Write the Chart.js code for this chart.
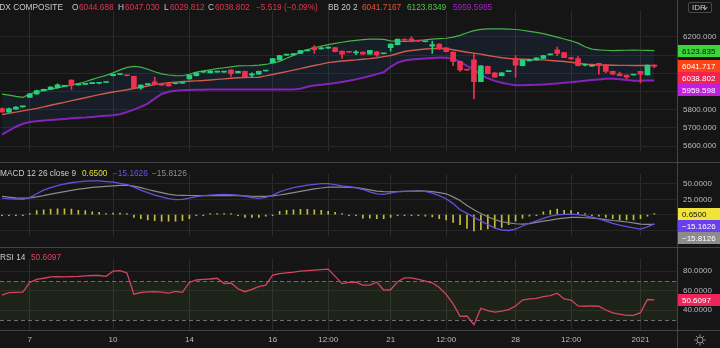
<!DOCTYPE html>
<html>
<head>
<meta charset="utf-8">
<script src="https://cdn.jsdelivr.net/npm/chart.js@4.4.1/dist/chart.umd.min.js"></script>
<style>
  body { margin: 0; background: #151515; }
  #wrap { position: relative; width: 720px; height: 348px; background: #151515; overflow: hidden;
          font-family: "Liberation Sans", Arial, sans-serif; }
  #wrap canvas { position: absolute; left: 0; }
  .hline { position: absolute; left: 0; width: 720px; height: 1px; background: #434343; }
  .vline { position: absolute; top: 0; left: 677px; width: 1px; height: 348px; background: #434343; }
  .lbl { position: absolute; font-size: 8.3px; line-height: 11px; white-space: nowrap; }
  #idr { position: absolute; left: 688px; top: 2px; width: 24px; height: 11px; border: 1px solid #4a4a4a;
         border-radius: 2px; font-size: 8px; line-height: 10px; color: #d0d0d0; box-sizing: border-box; padding-left: 3px; }
  #idr i { position: absolute; right: 4px; top: 3px; width: 2px; height: 2px; border-right: 1px solid #bbb;
           border-bottom: 1px solid #bbb; transform: rotate(45deg); }
</style>
</head>
<body>
<div id="wrap">
  <canvas id="priceChart" width="720" height="162" style="top:0"></canvas>
  <canvas id="macdChart" width="720" height="84" style="top:163px"></canvas>
  <canvas id="rsiChart" width="720" height="100" style="top:248px"></canvas>
  <div class="hline" style="top:162px"></div>
  <div class="hline" style="top:247px"></div>
  <div class="hline" style="top:330px"></div>
  <div class="vline"></div>
  <div id="idr">IDR<i></i></div>
</div>
<script>
// candles, IDX Composite
const candleOpen = [
  5806, 5786, 5803, 5815, 5867, 5886, 5903, 5911, 5921, 5928,
  5962, 5935, 5939, 5943, 5945, 5949, 5986, 5993, 5990, 5983,
  5919, 5937, 5952, 5943, 5943, 5942, 5945, 5968, 5986, 6005,
  6002, 6006, 6006, 6018, 6002, 6010, 5989, 5994, 6012, 6057,
  6073, 6099, 6100, 6108, 6123, 6144, 6133, 6137, 6141, 6121,
  6116, 6112, 6116, 6105, 6118, 6107, 6140, 6157, 6187, 6189,
  6177, 6173, 6148, 6160, 6140, 6116, 6065, 6018, 6073, 5954,
  6038, 6002, 5986, 6009, 6081, 6041, 6068, 6073, 6081, 6101,
  6129, 6113, 6086, 6081, 6044, 6038, 6054, 6044, 6010, 5997,
  5989, 5990, 6010, 5990, 6044.688
];
const candleHigh = [
  5810, 5808, 5816, 5818, 5888, 5907, 5913, 5926, 5941, 5934,
  5964, 5942, 5941, 5950, 5950, 5951, 5995, 5996, 5991, 5984,
  5936, 5940, 5978, 5946, 5944, 5944, 5948, 5990, 6003, 6008,
  6014, 6008, 6008, 6019, 6011, 6011, 6002, 6011, 6014, 6082,
  6098, 6101, 6109, 6125, 6125, 6152, 6141, 6145, 6142, 6122,
  6117, 6124, 6117, 6126, 6119, 6109, 6161, 6188, 6188, 6200,
  6178, 6175, 6176, 6161, 6141, 6117, 6066, 6019, 6108, 6042,
  6039, 6003, 6003, 6011, 6097, 6074, 6077, 6085, 6098, 6103,
  6144, 6114, 6087, 6092, 6050, 6040, 6055, 6049, 6011, 6006,
  5990, 5992, 6011, 6045, 6047.030
];
const candleLow = [
  5784, 5784, 5802, 5814, 5865, 5884, 5902, 5910, 5917, 5927,
  5911, 5934, 5938, 5942, 5941, 5948, 5985, 5992, 5985, 5918,
  5911, 5936, 5936, 5932, 5929, 5941, 5944, 5967, 5985, 6004,
  6001, 6005, 6005, 5982, 6001, 5980, 5978, 5993, 6011, 6056,
  6072, 6098, 6099, 6107, 6122, 6108, 6132, 6136, 6117, 6081,
  6114, 6102, 6104, 6104, 6092, 6106, 6121, 6156, 6180, 6172,
  6175, 6172, 6108, 6132, 6117, 6041, 6010, 6016, 5859, 5953,
  5996, 5977, 5985, 6008, 5978, 6040, 6067, 6072, 6080, 6100,
  6097, 6085, 6077, 6040, 6040, 6037, 5994, 6002, 5993, 5985,
  5970, 5989, 5946, 5989, 6029.812
];
const candleClose = [
  5787, 5806, 5814, 5817, 5886, 5905, 5911, 5924, 5936, 5932,
  5933, 5941, 5940, 5949, 5946, 5950, 5994, 5995, 5986, 5919,
  5935, 5939, 5937, 5934, 5930, 5943, 5947, 5989, 6002, 6007,
  6013, 6007, 6007, 5998, 6010, 5981, 5997, 6010, 6013, 6081,
  6097, 6100, 6108, 6124, 6124, 6129, 6140, 6144, 6118, 6105,
  6115, 6113, 6105, 6125, 6100, 6108, 6160, 6187, 6181, 6173,
  6176, 6174, 6157, 6133, 6118, 6065, 6018, 6017, 5954, 6041,
  5997, 5978, 6002, 6010, 6044, 6073, 6076, 6084, 6097, 6102,
  6108, 6086, 6078, 6041, 6045, 6039, 6041, 6010, 5994, 5986,
  5978, 5991, 5994, 6044, 6038.802
];

// Bollinger Bands 20 2
const bbUpper = [
  5885, 5880, 5873, 5867, 5886, 5898, 5905, 5912, 5919, 5927,
  5935, 5943, 5953, 5966, 5978, 5988, 6002, 6018, 6032, 6037,
  6033, 6022, 6008, 5996, 5990, 5987, 5986, 5994, 6006, 6013,
  6019, 6025, 6030, 6035, 6040, 6041, 6042, 6044, 6048, 6056,
  6065, 6082, 6098, 6115, 6130, 6140, 6149, 6157, 6164, 6170,
  6176, 6180, 6184, 6187, 6187, 6186, 6178, 6176, 6175, 6176,
  6179, 6183, 6187, 6190, 6192, 6198, 6208, 6222, 6234, 6241,
  6243, 6243, 6243, 6242, 6240, 6236, 6230, 6224, 6217, 6208,
  6198, 6188, 6178, 6165, 6145, 6132, 6128, 6126, 6124, 6125,
  6126, 6127, 6126, 6125, 6123.835
];
const bbBasis = [
  5773, 5779, 5786, 5793, 5800, 5807, 5815, 5824, 5832, 5840,
  5849, 5857, 5865, 5874, 5882, 5890, 5897, 5903, 5909, 5916,
  5923, 5930, 5937, 5943, 5948, 5951, 5954, 5956, 5958, 5960,
  5963, 5966, 5969, 5972, 5975, 5976, 5977, 5978, 5985, 5993,
  6001, 6009, 6017, 6025, 6034, 6042, 6050, 6058, 6063, 6067,
  6070, 6073, 6077, 6080, 6085, 6091, 6097, 6108, 6119, 6125,
  6129, 6133, 6135, 6137, 6134, 6129, 6122, 6115, 6110, 6105,
  6097, 6091, 6085, 6081, 6079, 6077, 6075, 6074, 6073, 6070,
  6067, 6064, 6060, 6055, 6050, 6048, 6046, 6045, 6044, 6043,
  6043, 6042, 6042, 6042, 6041.717
];
const bbLower = [
  5663, 5685, 5706, 5722, 5732, 5736, 5740, 5743, 5746, 5749,
  5752, 5755, 5757, 5760, 5763, 5766, 5769, 5775, 5786, 5800,
  5815, 5833, 5860, 5886, 5898, 5904, 5907, 5908, 5909, 5909,
  5910, 5910, 5910, 5910, 5910, 5910, 5910, 5910, 5910, 5910,
  5910, 5910, 5911, 5915, 5925, 5932, 5936, 5941, 5946, 5952,
  5958, 5966, 5975, 5985, 5995, 6005, 6035, 6058, 6070, 6075,
  6078, 6081, 6084, 6086, 6085, 6080, 6062, 6040, 6020, 5990,
  5972, 5958, 5948, 5940, 5934, 5934, 5935, 5936, 5938, 5941,
  5944, 5947, 5950, 5954, 5958, 5962, 5966, 5969, 5970, 5967,
  5962, 5958, 5958, 5960, 5959.598
];

// MACD 12 26 close 9
const macdLine = [
  27, 26, 25.5, 25, 27.8, 34, 40, 44, 47.5, 50,
  52, 53.5, 54.5, 55, 55, 54, 53, 51, 49, 45,
  40, 36, 32, 29, 26, 24.6, 25, 27, 29.5, 31,
  32, 32.5, 33, 32.5, 32, 30, 28, 26.6, 28, 31.9,
  37, 41, 44, 46, 48, 49.5, 50.5, 50.5, 49, 47,
  45.5, 44, 41, 37, 34, 33, 35, 37.5, 38, 38,
  38, 38, 35, 31, 26, 18, 8, 2, -4, -10.5,
  -16, -22, -25, -25.8, -23.5, -18.5, -14, -10, -6, -2.5,
  -0.5, 0.5, 0.8, 0, -1.6, -4, -7, -10.5, -14, -17,
  -19.5, -21.5, -23.4, -20, -15.1626
];
const signalLine = [
  30, 28.5, 27.5, 26.8, 27.5, 29, 31, 33.5, 35.5, 37.5,
  39.5, 41.5, 43, 44.5, 45.3, 46.2, 47, 47.6, 48, 46.5,
  44, 41, 38.5, 36, 33.5, 32, 31.5, 31.2, 31, 31,
  31, 31, 31, 31, 30.8, 30.5, 30, 29.8, 29.8, 30.5,
  32, 34, 36, 38, 40, 42, 43.5, 45, 45, 44.8,
  44.5, 44, 42.5, 40.5, 38.5, 37.5, 37, 37.5, 38, 38.5,
  38.7, 38.5, 37.5, 36, 34, 29, 23, 15, 8, 2,
  -3.5, -8, -11.5, -13.5, -14.8, -15.3, -14.5, -12.5, -10.5, -9,
  -7, -5.5, -4.5, -4.4, -5, -5.6, -6.5, -8, -9.5, -10.5,
  -12, -13.5, -15.3, -15.7, -15.8126
];
const macdHist = [
  -0.8, -0.5, -0.8, -1, 0.5, 6.5, 7.7, 8.9, 9.7, 9.7,
  8.9, 6.9, 6.5, 4.8, 3.6, 1.6, 2.4, 2.4, 1.6, -4.4,
  -6.5, -8.5, -9.7, -10.5, -10.5, -10.5, -9.7, -6.5, -1.6, -0.8,
  0.8, 0.5, 0.8, 0.5, -0.5, -4.4, -4.4, -4.4, -2.4, -1.6,
  5.6, 6.9, 7.7, 8.5, 8.5, 7.7, 6.9, 5.6, 3.6, 0.8,
  -1.6, -1.6, -5.6, -5.6, -6.5, -6.5, -4.4, -1.6, -1.2, -1.2,
  -1.6, -2.4, -3.6, -6.5, -8.5, -12.5, -16.5, -22.6, -26.6, -24.6,
  -23.4, -21.8, -20.6, -16.5, -10.5, -5.6, -2.4, -0.4, 4.8, 6.9,
  8.9, 6.9, 6.5, 3.6, 0.8, -1.6, -2.4, -4.4, -6.5, -8.5,
  -8.5, -8.5, -6.5, -2.4, 0.65
];

// RSI 14
const rsiLine = [
  55.5, 58, 58.4, 58.5, 68.5, 71.7, 72.8, 74.2, 74.5, 74.1,
  74.5, 74.8, 75.3, 75.6, 75.6, 74.7, 80, 80.6, 78.2, 56.5,
  58.2, 58.8, 59, 58.5, 57.5, 59.3, 58.4, 68.5, 71, 71.6,
  72, 72.8, 67.4, 67.9, 62, 59, 61.3, 64.3, 65.8, 76,
  77.6, 78.3, 79, 80, 80.6, 81.2, 81.6, 82.1, 74.7, 67.3,
  68.5, 68.7, 65.8, 65.8, 68.7, 60.7, 61, 69.3, 73.2, 73.2,
  71.7, 69.9, 68.1, 63.4, 56.3, 46.5, 33.8, 34.1, 25.2, 42.1,
  39.7, 38.2, 39.1, 40.6, 44.4, 50.4, 51.6, 52.1, 53.9, 55.1,
  57.5, 51.6, 50.4, 44.4, 44.1, 44.4, 44.1, 40.3, 37.3, 36.1,
  34.7, 34.7, 37.6, 51, 50.6097
];
const rsiLevels = [70, 30];

// time axis: bar index of each label
const timeTickIdx = [4, 16, 27, 39, 47, 56, 64, 74, 82, 92];
const timeTickLabels = ['7', '10', '14', '16', '12:00', '21', '12:00', '28', '12:00', '2021'];
const priceTicks = [5600, 5700, 5800, 5900, 6000, 6100, 6200];
const macdTicks = [-25, 0, 25, 50];
const rsiTicks = [40, 60, 80];

const FONT = '"Liberation Sans", Arial, sans-serif';
Chart.defaults.font.family = FONT;
Chart.defaults.animation = false;

const idx = candleClose.map((_, i) => i);
const last = idx.length - 1;
const candleColor = idx.map(i => candleClose[i] >= candleOpen[i] ? '#24d07c' : '#f0304f');
const pts = arr => idx.map(i => ({ x: i, y: arr[i] }));
const minus = s => s.replace('-', '\u2212');

function timeAxis(showLabels) {
  return {
    type: 'linear', min: -0.29, max: 97.26, offset: false,
    afterBuildTicks: s => { s.ticks = timeTickIdx.map(v => ({ value: v })); },
    afterFit: s => { s.height = showLabels ? 18 : 0; },
    grid: { color: '#2b2b2b', drawTicks: false, offset: false },
    border: { display: false },
    ticks: {
      display: showLabels, color: '#b9bbc0', font: { size: 8 }, padding: 5,
      maxRotation: 0, autoSkip: false, callback: (v, i) => timeTickLabels[i]
    }
  };
}

function valueAxis(min, max, ticks, digits) {
  return {
    position: 'right', min: min, max: max,
    afterBuildTicks: s => { s.ticks = ticks.map(v => ({ value: v })); },
    afterFit: s => { s.width = 43; },
    grid: { color: '#262626', drawTicks: false },
    border: { display: false },
    ticks: { color: '#b9bbc0', font: { size: 8 }, padding: 6, callback: v => minus(v.toFixed(digits)) }
  };
}

// coloured last-value tags on the right scale, pushed apart when they overlap
const valueBoxes = {
  id: 'valueBoxes',
  afterDraw(chart, args, opts) {
    const ctx = chart.ctx, y = chart.scales.y;
    const boxes = opts.items.map(b => Object.assign({ py: y.getPixelForValue(b.value) }, b))
      .sort((a, b) => a.py - b.py);
    let prev = -1e9;
    ctx.save();
    ctx.font = '8px ' + FONT;
    ctx.textBaseline = 'middle';
    boxes.forEach(b => {
      const py = Math.max(b.py, prev + 12);
      prev = py;
      ctx.fillStyle = b.bg;
      ctx.fillRect(y.left + 1, Math.round(py - 6), chart.width - y.left - 1, 12);
      ctx.fillStyle = b.fg;
      ctx.fillText(b.text, y.left + 5, Math.round(py) + 0.5);
    });
    ctx.restore();
  }
};

const rsiBand = {
  id: 'rsiBand',
  beforeDatasetsDraw(chart) {
    const { ctx, chartArea: a, scales: { y } } = chart;
    const top = y.getPixelForValue(rsiLevels[0]), bot = y.getPixelForValue(rsiLevels[1]);
    ctx.save();
    ctx.fillStyle = 'rgba(110,170,60,0.10)';
    ctx.fillRect(a.left, top, a.right - a.left, bot - top);
    ctx.strokeStyle = '#6e6e6e';
    ctx.lineWidth = 1;
    ctx.setLineDash([4, 3]);
    [top, bot].forEach(p => {
      ctx.beginPath();
      ctx.moveTo(a.left, Math.round(p) + 0.5);
      ctx.lineTo(a.right, Math.round(p) + 0.5);
      ctx.stroke();
    });
    ctx.restore();
  },
  afterDraw(chart) {
    // settings gear under the scale
    const ctx = chart.ctx, cx = 700, cy = 92;
    ctx.save();
    ctx.strokeStyle = '#9a9a9a';
    ctx.lineWidth = 1;
    ctx.beginPath();
    ctx.arc(cx, cy, 3, 0, Math.PI * 2);
    ctx.stroke();
    for (let k = 0; k < 8; k++) {
      const t = k * Math.PI / 4;
      ctx.beginPath();
      ctx.moveTo(cx + Math.cos(t) * 3.5, cy + Math.sin(t) * 3.5);
      ctx.lineTo(cx + Math.cos(t) * 5.5, cy + Math.sin(t) * 5.5);
      ctx.stroke();
    }
    ctx.restore();
  }
};

const baseOptions = {
  responsive: false,
  layout: { padding: 0 },
  plugins: { legend: { display: false }, tooltip: { enabled: false } }
};

new Chart(document.getElementById('priceChart'), {
  type: 'line',
  data: {
    datasets: [
      { data: pts(bbUpper), borderColor: '#45b445', borderWidth: 1.2, pointRadius: 0,
        fill: { target: 2 }, backgroundColor: 'rgba(40,120,220,0.09)', order: 5 },
      { data: pts(bbBasis), borderColor: '#e0583c', borderWidth: 1.4, pointRadius: 0, fill: false, order: 5 },
      { data: pts(bbLower), borderColor: '#8b1fb8', borderWidth: 2, pointRadius: 0, fill: false, order: 5 },
      { type: 'bar', data: idx.map(i => ({ x: i, y: [candleLow[i], candleHigh[i]] })),
        backgroundColor: candleColor, barThickness: 1, grouped: false, order: 2 },
      { type: 'bar', data: idx.map(i => ({ x: i, y: [candleOpen[i], candleClose[i]] })),
        backgroundColor: candleColor, barThickness: 5, minBarLength: 1, grouped: false, order: 1 }
    ]
  },
  options: Object.assign({}, baseOptions, {
    scales: { x: timeAxis(false), y: valueAxis(5571.43, 6342.86, priceTicks, 3) },
    plugins: Object.assign({}, baseOptions.plugins, {
      valueBoxes: { items: [
        { value: bbUpper[last], text: bbUpper[last].toFixed(3), bg: '#3bd43b', fg: '#101010' },
        { value: bbBasis[last], text: bbBasis[last].toFixed(3), bg: '#ff4317', fg: '#ffffff' },
        { value: candleClose[last], text: candleClose[last].toFixed(3), bg: '#f2234f', fg: '#ffffff' },
        { value: bbLower[last], text: bbLower[last].toFixed(3), bg: '#c01fe0', fg: '#ffffff' }
      ] }
    })
  }),
  plugins: [valueBoxes]
});

new Chart(document.getElementById('macdChart'), {
  type: 'line',
  data: {
    datasets: [
      { type: 'bar', data: pts(macdHist), backgroundColor: '#c2c03a', barThickness: 1,
        minBarLength: 1, grouped: false, order: 3 },
      { data: pts(signalLine), borderColor: '#8a8a8a', borderWidth: 1.2, pointRadius: 0, fill: false, order: 2 },
      { data: pts(macdLine), borderColor: '#6650e0', borderWidth: 1.3, pointRadius: 0, fill: false, order: 1 }
    ]
  },
  options: Object.assign({}, baseOptions, {
    scales: { x: timeAxis(false), y: valueAxis(-35.1, 66.6, macdTicks, 4) },
    plugins: Object.assign({}, baseOptions.plugins, {
      valueBoxes: { items: [
        { value: macdHist[last], text: macdHist[last].toFixed(4), bg: '#f0e43a', fg: '#111111' },
        { value: macdLine[last], text: minus(macdLine[last].toFixed(4)), bg: '#6a3ff0', fg: '#ffffff' },
        { value: signalLine[last], text: minus(signalLine[last].toFixed(4)), bg: '#8c8c8c', fg: '#ffffff' }
      ] }
    })
  }),
  plugins: [valueBoxes]
});

new Chart(document.getElementById('rsiChart'), {
  type: 'line',
  data: {
    datasets: [
      { data: pts(rsiLine), borderColor: '#d7435f', borderWidth: 1.3, pointRadius: 0, fill: false }
    ]
  },
  options: Object.assign({}, baseOptions, {
    scales: { x: timeAxis(true), y: valueAxis(19.8, 92.7, rsiTicks, 4) },
    plugins: Object.assign({}, baseOptions.plugins, {
      valueBoxes: { items: [
        { value: rsiLine[last], text: rsiLine[last].toFixed(4), bg: '#f0245a', fg: '#ffffff' }
      ] }
    })
  }),
  plugins: [rsiBand, valueBoxes]
});

// legend rows at the top of each pane
const wrap = document.getElementById('wrap');
function addLabel(text, left, top, color) {
  const s = document.createElement('span');
  s.className = 'lbl';
  s.textContent = text;
  s.style.left = left + 'px';
  s.style.top = top + 'px';
  s.style.color = color;
  wrap.appendChild(s);
}
const gray = '#c8cacf', red = '#e2354f';
addLabel('IDX COMPOSITE', -3, 1.5, gray);
addLabel('O', 72, 1.5, gray); addLabel(candleOpen[last].toFixed(3), 79, 1.5, red);
addLabel('H', 118, 1.5, gray); addLabel(candleHigh[last].toFixed(3), 125, 1.5, red);
addLabel('L', 164, 1.5, gray); addLabel(candleLow[last].toFixed(3), 170, 1.5, red);
addLabel('C', 208, 1.5, gray); addLabel(candleClose[last].toFixed(3), 215, 1.5, red);
addLabel('\u22125.519 (\u22120.09%)', 256, 1.5, red);
addLabel('BB 20 2', 328, 1.5, gray);
addLabel('6041.7167', 362, 1.5, '#e8552f');
addLabel('6123.8349', 407, 1.5, '#4cc94c');
addLabel('5959.5985', 453, 1.5, '#a521c4');

addLabel('MACD 12 26 close 9', 0, 167.5, gray);
addLabel(macdHist[last].toFixed(4), 82, 167.5, '#e8de3a');
addLabel(minus(macdLine[last].toFixed(4)), 113, 167.5, '#6b55e6');
addLabel(minus(signalLine[last].toFixed(4)), 152, 167.5, '#8c8c8c');

addLabel('RSI 14', 0, 252, gray);
addLabel(rsiLine[last].toFixed(4), 31, 252, '#d7435f');
</script>
</body>
</html>
